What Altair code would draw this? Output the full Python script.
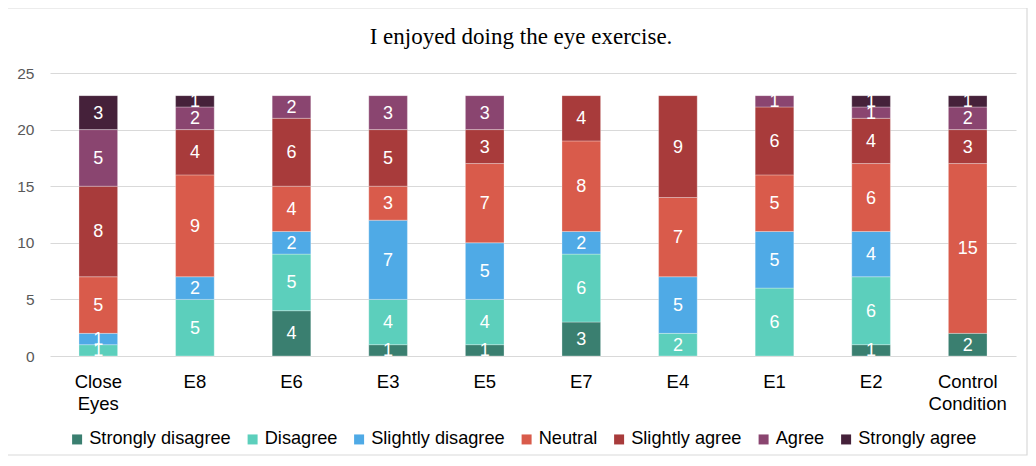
import altair as alt
import pandas as pd

categories = ["Close Eyes", "E8", "E6", "E3", "E5", "E7", "E4", "E1", "E2", "Control Condition"]
levels = ["Strongly disagree", "Disagree", "Slightly disagree", "Neutral",
          "Slightly agree", "Agree", "Strongly agree"]
colors = ["#3a7f70", "#5ccfbc", "#4faae6", "#d95b4b", "#a83b3b", "#8a4570", "#45213a"]
title_text = "I enjoyed doing the eye exercise."

strongly_disagree = [0, 0, 4, 1, 1, 3, 0, 0, 1, 2]
disagree          = [1, 5, 5, 4, 4, 6, 2, 6, 6, 0]
slightly_disagree = [1, 2, 2, 7, 5, 2, 5, 5, 4, 0]
neutral           = [5, 9, 4, 3, 7, 8, 7, 5, 6, 15]
slightly_agree    = [8, 4, 6, 5, 3, 4, 9, 6, 4, 3]
agree             = [5, 2, 2, 3, 3, 0, 0, 1, 1, 2]
strongly_agree    = [3, 1, 0, 0, 0, 0, 0, 0, 1, 1]

series = [strongly_disagree, disagree, slightly_disagree, neutral,
          slightly_agree, agree, strongly_agree]

rows = []
for li, (lvl, vals) in enumerate(zip(levels, series)):
    for c, v in zip(categories, vals):
        rows.append({"cat": c, "level": lvl, "order": li, "value": v})
df = pd.DataFrame(rows)

base = alt.Chart(df).transform_filter("datum.value > 0").transform_stack(
    stack="value", groupby=["cat"], sort=[alt.SortField("order")], as_=["y0", "y1"]
).transform_calculate(mid="(datum.y0 + datum.y1) / 2")

x = alt.X("cat:N", sort=categories, title=None,
          scale=alt.Scale(paddingInner=0.6, paddingOuter=0.3),
          axis=alt.Axis(labelAngle=0, labelFontSize=18.5, labelColor="#000000",
                        labelFont="Liberation Sans", labelPadding=16, labelLineHeight=22,
                        labelExpr="split(datum.label, ' ')",
                        domain=False, ticks=False, grid=False))

bars = base.mark_bar(stroke="#ffffff", strokeWidth=0.6, strokeOpacity=0.5).encode(
    x=x,
    y=alt.Y("y0:Q", title=None,
            scale=alt.Scale(domain=[0, 25], nice=False),
            axis=alt.Axis(values=[0, 5, 10, 15, 20, 25], domain=False, ticks=False,
                          labelFontSize=15.5, labelColor="#595959", labelFont="Liberation Sans",
                          labelPadding=16, gridColor="#d9d9d9", gridWidth=1.2)),
    y2="y1:Q",
    color=alt.Color("level:N", sort=levels,
                    scale=alt.Scale(domain=levels, range=colors),
                    legend=alt.Legend(title=None, orient="none", direction="horizontal",
                                      legendX=18, legendY=357, symbolType="square",
                                      symbolSize=100, symbolStrokeWidth=0,
                                      labelFontSize=18.2, labelFont="Liberation Sans",
                                      labelColor="#000000", columnPadding=12.5,
                                      symbolOffset=0, labelOffset=3)),
    order=alt.Order("order:Q"),
)

labels = base.mark_text(color="#ffffff", fontSize=18, font="Liberation Sans",
                        baseline="middle", dy=1).encode(
    x=alt.X("cat:N", sort=categories),
    y=alt.Y("mid:Q"),
    text=alt.Text("value:Q"),
)

title = alt.Chart(pd.DataFrame({"t": [title_text]})).mark_text(
    font="Liberation Serif", fontSize=23, color="#000000", baseline="middle", align="center"
).encode(x=alt.value(471), y=alt.value(-36), text="t:N")

border = alt.Chart(pd.DataFrame({"a": [0]})).mark_rect(
    fill=None, stroke="#d9d9d9", strokeWidth=1.2, clip=False
).encode(x=alt.value(-45), x2=alt.value(977), y=alt.value(-65), y2=alt.value(382))

chart = alt.layer(bars, labels, title, border).properties(
    width=966, height=283,
    autosize=alt.AutoSizeParams(type="none"),
    padding={"left": 42, "top": 65, "right": 12, "bottom": 100},
).configure_view(stroke=None)

chart.save("out.html", embed_options={"renderer": "svg", "actions": False})
